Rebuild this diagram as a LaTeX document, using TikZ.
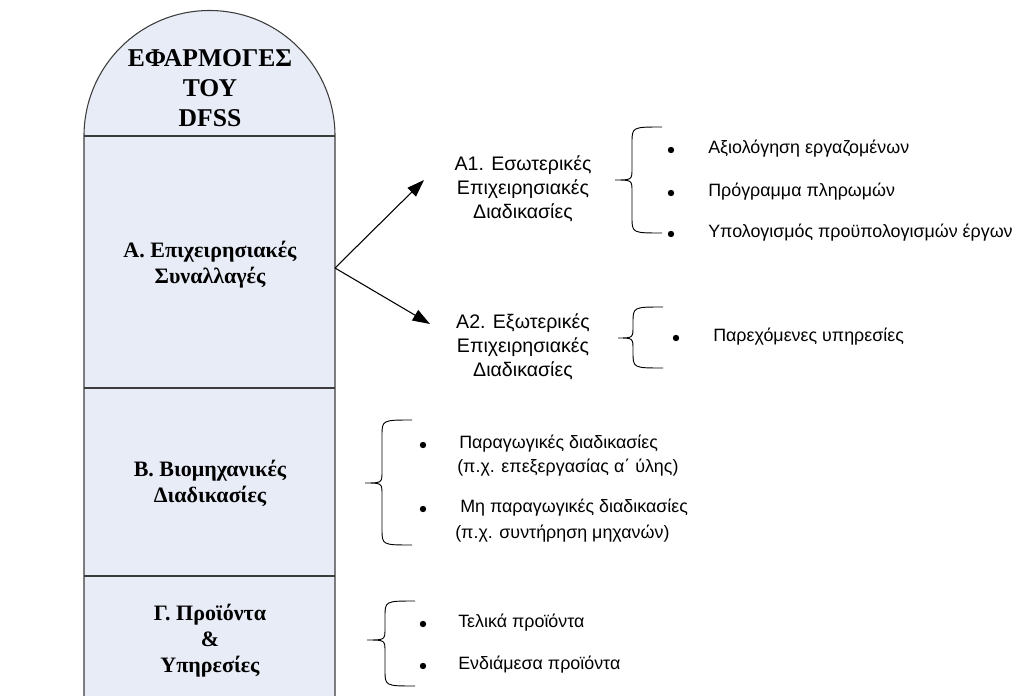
\documentclass[tikz,border=0pt]{standalone}
\usepackage{fontspec}
\setmainfont{Liberation Serif}
\newfontfamily\arialfont{Liberation Sans}
\usetikzlibrary{arrows.meta,positioning}
\definecolor{colfill}{RGB}{232,236,247}
\definecolor{colline}{RGB}{60,60,60}

% word-like curly brace: tip x, vertical x, tail x, top y, mid y, bottom y
\newcommand{\wbrace}[6]{%
  \draw[line width=0.7pt] (#3,#4) .. controls (#2,#4) .. (#2,#4+16) -- (#2,#5-12)
    .. controls (#2,#5) .. (#1,#5) .. controls (#2,#5) .. (#2,#5+12) -- (#2,#6-16)
    .. controls (#2,#6) .. (#3,#6);}

\begin{document}
\begin{tikzpicture}[x=0.75pt,y=-0.75pt,
    sect/.style={font=\bfseries\fontsize{16.5}{19.5}\selectfont, align=center},
    blk/.style={font=\arialfont\fontsize{14.7}{18}\selectfont, align=center},
    item/.style={font=\arialfont\fontsize{13.4}{18}\selectfont, anchor=mid west, inner sep=0pt},
    dot/.style={circle, fill, inner sep=0pt, minimum size=4.8pt},
    arr/.style={line width=0.8pt, -{Triangle[length=13pt,width=9pt]}}]
  \useasboundingbox (0,0) rectangle (1015,696);
  \clip (0,0) rectangle (1015,696);

  % column
  \draw[colline, fill=colfill, line width=0.8pt] (84,720) -- (84,136)
    arc[start angle=180, end angle=360, radius=125.5] -- (335,720);
  \draw[colline, line width=0.8pt] (84,136) -- (335,136) (84,388) -- (335,388) (84,576) -- (335,576);

  \node[font=\bfseries\fontsize{19.2}{22.5}\selectfont, align=center] (title) at (210,88) {ΕΦΑΡΜΟΓΕΣ\\ΤΟΥ\\DFSS};
  \node[sect] (secA) at (210,265) {Α. Επιχειρησιακές\\Συναλλαγές};
  \node[sect] (secB) at (210,483) {Β. Βιομηχανικές\\Διαδικασίες};
  \node[sect] (secG) at (210,641) {Γ. Προϊόντα\\\&\\Υπηρεσίες};

  % A1 / A2
  \coordinate (fork) at (335,268);
  \coordinate (tipA1) at (424,180);
  \coordinate (tipA2) at (430,324);
  \draw[arr] (fork) -- (tipA1);
  \draw[arr] (fork) -- (tipA2);
  \node[blk] (a1) at (523,189) {Α1. Εσωτερικές\\Επιχειρησιακές\\Διαδικασίες};
  \node[blk] (a2) at (523,347) {Α2. Εξωτερικές\\Επιχειρησιακές\\Διαδικασίες};

  \wbrace{615}{632}{662}{127}{180}{233}
  \node[dot] (d11) at (671,150) {};
  \node[item] (i11) at (708,150) {Αξιολόγηση εργαζομένων};
  \node[dot] (d12) at (671,193) {};
  \node[item] (i12) at (708,193) {Πρόγραμμα πληρωμών};
  \node[dot] (d13) at (671,234) {};
  \node[item] (i13) at (708,234) {Υπολογισμός προϋπολογισμών έργων};

  \wbrace{618}{633}{663}{307}{338}{368}
  \node[dot] (d21) at (676,338) {};
  \node[item] (i21) at (713,338) {Παρεχόμενες υπηρεσίες};

  % B
  \wbrace{365}{382}{412}{420}{483}{545}
  \node[dot] (dB1) at (423,445) {};
  \node[item] (iB1) at (459,445) {Παραγωγικές διαδικασίες};
  \node[item] (iB1x) at (457,469) {(π.χ. επεξεργασίας α΄ ύλης)};
  \node[dot] (dB2) at (423,509) {};
  \node[item] (iB2) at (460,509) {Μη παραγωγικές διαδικασίες};
  \node[item] (iB2x) at (455,535) {(π.χ. συντήρηση μηχανών)};

  % G
  \wbrace{367}{385}{415}{601}{640}{686}
  \node[dot] (dG1) at (423,624) {};
  \node[item] (iG1) at (458,624) {Τελικά προϊόντα};
  \node[dot] (dG2) at (423,666) {};
  \node[item] (iG2) at (458,666) {Ενδιάμεσα προϊόντα};
\end{tikzpicture}
\end{document}
